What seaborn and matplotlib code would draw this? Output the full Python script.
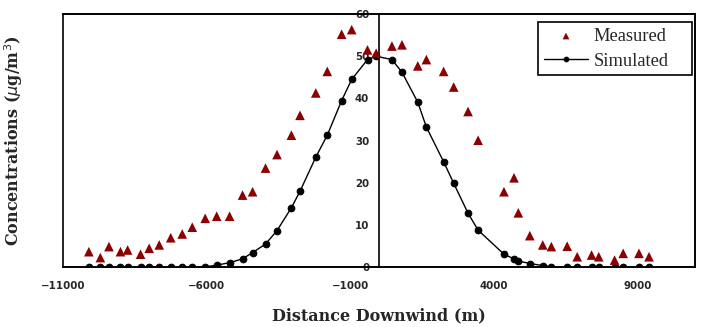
import matplotlib
matplotlib.use("Agg")
import matplotlib.pyplot as plt
import seaborn as sns
import pandas as pd
from matplotlib.patches import Rectangle

distance = [-10100, -9700, -9400, -9000, -8750, -8300, -8000, -7650, -7250, -6850,
            -6500, -6050, -5650, -5200, -4750, -4400, -3950, -3550, -3050, -2750,
            -2200, -1800, -1300, -950, -400, -100, 450, 800, 1350, 1650,
            2250, 2600, 3100, 3450, 4350, 4700, 4850, 5250, 5700, 6000,
            6550, 6900, 7400, 7650, 8200, 8500, 9050, 9400]
measured = [3.7, 2.3, 4.9, 3.7, 4.1, 3.1, 4.5, 5.3, 7.0, 7.9,
            9.5, 11.6, 12.1, 12.1, 17.1, 17.9, 23.5, 26.7, 31.3, 36.0,
            41.3, 46.4, 55.2, 56.3, 51.5, 50.7, 52.4, 52.7, 47.7, 49.2,
            46.4, 42.7, 36.9, 30.1, 17.9, 21.2, 12.9, 7.5, 5.3, 4.9,
            5.0, 2.5, 2.9, 2.5, 1.7, 3.3, 3.3, 2.5]
simulated = [0.0, 0.0, 0.0, 0.0, 0.0, 0.0, 0.0, 0.0, 0.0, 0.0,
             0.0, 0.1, 0.5, 1.1, 2.0, 3.5, 5.5, 8.7, 14.1, 18.0,
             26.1, 31.3, 39.5, 44.5, 49.2, 50.0, 49.2, 46.2, 39.1, 33.2,
             25.0, 19.9, 12.8, 8.8, 3.1, 2.0, 1.5, 0.9, 0.4, 0.15,
             0.0, 0.0, 0.0, 0.0, 0.0, 0.0, 0.0, 0.0]
x_ticks = [-11000, -6000, -1000, 4000, 9000]
y_ticks = [0, 10, 20, 30, 40, 50, 60]

df = pd.DataFrame({"distance": distance, "Measured": measured, "Simulated": simulated})

sns.set_style("white")
plt.rcParams["font.family"] = ["DejaVu Sans"]

fig = plt.figure(figsize=(7.01, 3.27), dpi=100)
ax = fig.add_axes([63 / 701, 1 - 267.3 / 327, (695 - 63) / 701, (267.3 - 14) / 327])

sns.scatterplot(data=df, x="distance", y="Measured", marker="^", color="#8B0000",
                s=48, edgecolor="none", ax=ax, label="Measured", zorder=3)
sns.lineplot(data=df, x="distance", y="Simulated", color="black", linewidth=1.0,
             marker="o", markersize=4.8, markeredgecolor="black", ax=ax,
             label="Simulated", zorder=2)

ax.set_xlim(-11000, 11000)
ax.set_ylim(0, 60)
ax.set_xticks(x_ticks)
ax.set_yticks(y_ticks)

# centre y-axis at x = 0
ax.spines["left"].set_position(("data", 0))
for s in ["left", "right", "top", "bottom"]:
    ax.spines[s].set_color("black")
    ax.spines[s].set_linewidth(1.2)
ax.add_patch(Rectangle((0, 0), 1, 1, transform=ax.transAxes, fill=False,
                       edgecolor="black", linewidth=1.2, zorder=5, clip_on=False))

ax.tick_params(axis="both", which="major", direction="out", length=3, width=1,
               color="black", labelsize=7.4, pad=3)
ax.tick_params(axis="y", length=4, pad=3)
ax.tick_params(axis="x", pad=7)
for lab in ax.get_xticklabels() + ax.get_yticklabels():
    lab.set_fontweight("bold")
    lab.set_family("DejaVu Sans")

ax.set_xlabel("Distance Downwind (m)", fontfamily="DejaVu Serif", fontweight="bold",
              fontsize=11.5, labelpad=12)
ax.set_ylabel("Concentrations ($\\mu$g/m$^3$)", fontfamily="DejaVu Serif",
              fontweight="bold", fontsize=11.5)
ax.yaxis.set_label_coords((25 - 63) / 632, 0.5, transform=ax.transAxes)

x0 = (538 - 63) / 632
x1 = (692 - 63) / 632
ytop = (267.3 - 22.3) / 253.3
leg = ax.legend(loc="upper left", bbox_to_anchor=(x0, ytop - 0.3, x1 - x0, 0.3),
                mode="expand", borderaxespad=0, frameon=True,
                fancybox=False, framealpha=1, edgecolor="black",
                prop={"family": "Liberation Serif", "size": 13.3},
                handlelength=2.43, borderpad=0.3, labelspacing=0.42, handletextpad=0.27,
                markerscale=0.7)
leg.get_frame().set_linewidth(1.2)

fig.savefig("out.png", dpi=100)
